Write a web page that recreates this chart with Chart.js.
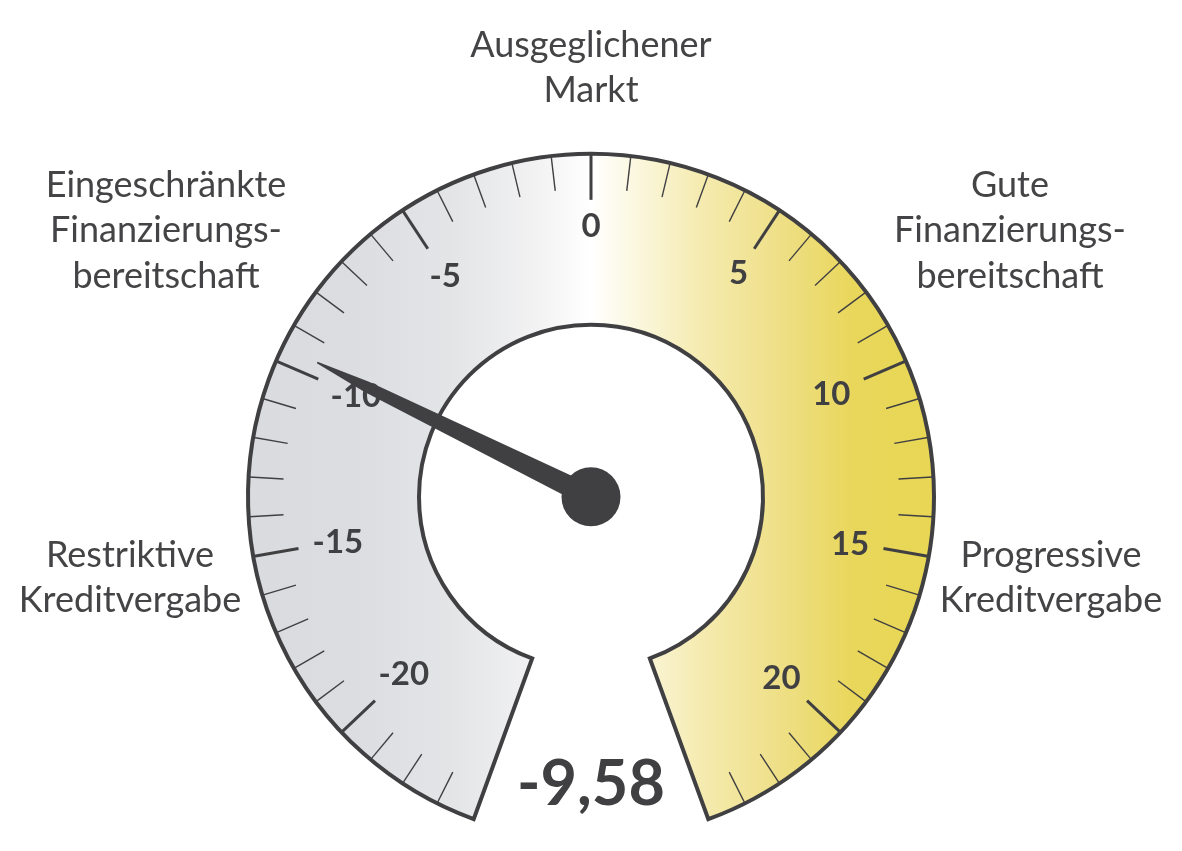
<!DOCTYPE html>
<html lang="de">
<head>
<meta charset="utf-8">
<title>Kreditindex</title>
<script src="https://cdn.jsdelivr.net/npm/chart.js@4.4.1/dist/chart.umd.min.js"></script>
<style>
  html, body { margin: 0; padding: 0; background: #fff; }
  #gauge { display: block; }
</style>
</head>
<body>
<canvas id="gauge" width="1182" height="851"></canvas>
<script>
// scale of the gauge
const scaleMin = -24;
const scaleMax = 24;
const tickStep = 1;
const majorTicks = [-20, -15, -10, -5, 0, 5, 10, 15, 20];
const tickLabels = ['-20', '-15', '-10', '-5', '0', '5', '10', '15', '20'];

// current reading
const indexValue = -9.58;
const indexLabel = '-9,58';

// zone captions around the dial
const zoneNames = [
  ['Ausgeglichener', 'Markt'],
  ['Eingeschränkte', 'Finanzierungs-', 'bereitschaft'],
  ['Gute', 'Finanzierungs-', 'bereitschaft'],
  ['Restriktive', 'Kreditvergabe'],
  ['Progressive', 'Kreditvergabe'],
];

const ink = '#404042';
const textFont = 'Lato, "Open Sans", sans-serif';

// where each caption block sits, relative to the dial centre (first baseline)
const zonePlacement = [
  { dx: 0, dy: -440 },
  { dx: -425, dy: -300 },
  { dx: 419, dy: -300 },
  { dx: -461, dy: 70 },
  { dx: 460, dy: 70 },
];

function dialFill(context) {
  const chart = context.chart;
  const area = chart.chartArea;
  if (!area) return '#e0e0e0';
  const cx = (area.left + area.right) / 2;
  const r = 343;
  const g = chart.ctx.createLinearGradient(cx - r, 0, cx + r, 0);
  g.addColorStop(0.00, '#dadbde');
  g.addColorStop(0.15, '#dcdde0');
  g.addColorStop(0.30, '#e4e5e7');
  g.addColorStop(0.42, '#f2f2f3');
  g.addColorStop(0.50, '#ffffff');
  g.addColorStop(0.55, '#fcf9e6');
  g.addColorStop(0.66, '#f5ebb0');
  g.addColorStop(0.78, '#eedf85');
  g.addColorStop(0.88, '#e9d75c');
  g.addColorStop(1.00, '#e8d654');
  return g;
}

function valueToAngle(arc, v) {
  return arc.startAngle + (v - scaleMin) / (scaleMax - scaleMin) * (arc.endAngle - arc.startAngle);
}

const dialDecor = {
  id: 'dialDecor',
  afterDatasetsDraw(chart) {
    const arc = chart.getDatasetMeta(0).data[0].getProps(
      ['x', 'y', 'startAngle', 'endAngle', 'innerRadius', 'outerRadius'], true);
    const ctx = chart.ctx;
    const cx = arc.x, cy = arc.y, R = arc.outerRadius;
    ctx.save();
    ctx.strokeStyle = ink;
    ctx.lineCap = 'butt';

    // ticks
    for (let v = scaleMin + tickStep; v < scaleMax; v += tickStep) {
      const major = majorTicks.includes(v);
      const a = valueToAngle(arc, v);
      const r1 = R - 1;
      const r2 = major ? R - 46 : R - 35;
      ctx.lineWidth = major ? 3 : 1.4;
      ctx.beginPath();
      ctx.moveTo(cx + Math.cos(a) * r1, cy + Math.sin(a) * r1);
      ctx.lineTo(cx + Math.cos(a) * r2, cy + Math.sin(a) * r2);
      ctx.stroke();
    }

    // tick labels, boxes kept just inside a circle
    ctx.fillStyle = ink;
    ctx.font = 'bold 33px ' + textFont;
    ctx.textAlign = 'center';
    ctx.textBaseline = 'alphabetic';
    const digitH = 24;
    majorTicks.forEach((v, i) => {
      const a = valueToAngle(arc, v);
      const w = ctx.measureText(tickLabels[i]).width;
      const ext = Math.abs(Math.cos(a)) * w / 2 + Math.abs(Math.sin(a)) * digitH / 2;
      const r = 284 - ext;
      const x = cx + Math.cos(a) * r;
      const y = cy + Math.sin(a) * r;
      ctx.fillText(tickLabels[i], x, y + digitH / 2);
    });

    // needle
    const na = valueToAngle(arc, indexValue);
    const ux = Math.cos(na), uy = Math.sin(na);
    const px = -uy, py = ux;
    const shape = [[305, 0.7], [250, 5.5], [0, 11]];
    ctx.fillStyle = ink;
    ctx.beginPath();
    shape.forEach(([r, h], k) => {
      const x = cx + ux * r + px * h, y = cy + uy * r + py * h;
      if (k === 0) ctx.moveTo(x, y); else ctx.lineTo(x, y);
    });
    for (let k = shape.length - 1; k >= 0; k--) {
      const [r, h] = shape[k];
      ctx.lineTo(cx + ux * r - px * h, cy + uy * r - py * h);
    }
    ctx.closePath();
    ctx.fill();
    ctx.beginPath();
    ctx.arc(cx, cy, 29.5, 0, Math.PI * 2);
    ctx.fill();

    // reading
    ctx.font = 'bold 63px ' + textFont;
    ctx.fillText(indexLabel, cx, cy + 308);

    // zone captions
    ctx.fillStyle = '#444446';
    ctx.font = '36px ' + textFont;
    zoneNames.forEach((lines, i) => {
      const p = zonePlacement[i];
      lines.forEach((line, j) => {
        ctx.fillText(line, cx + p.dx, cy + p.dy + j * 45.5);
      });
    });
    ctx.restore();
  }
};

new Chart(document.getElementById('gauge'), {
  type: 'doughnut',
  data: {
    labels: ['Index'],
    datasets: [{
      data: [scaleMax - scaleMin],
      backgroundColor: dialFill,
      borderColor: ink,
      borderWidth: 4,
      borderJoinStyle: 'miter',
      hoverOffset: 0,
    }]
  },
  options: {
    responsive: false,
    devicePixelRatio: 1,
    animation: false,
    events: [],
    rotation: -160,
    circumference: 320,
    radius: 343,
    cutout: '50.15%',
    layout: { padding: { top: 122, bottom: 0, left: 0, right: 0 } },
    plugins: {
      legend: { display: false },
      tooltip: { enabled: false },
    }
  },
  plugins: [dialDecor]
});
</script>
</body>
</html>
